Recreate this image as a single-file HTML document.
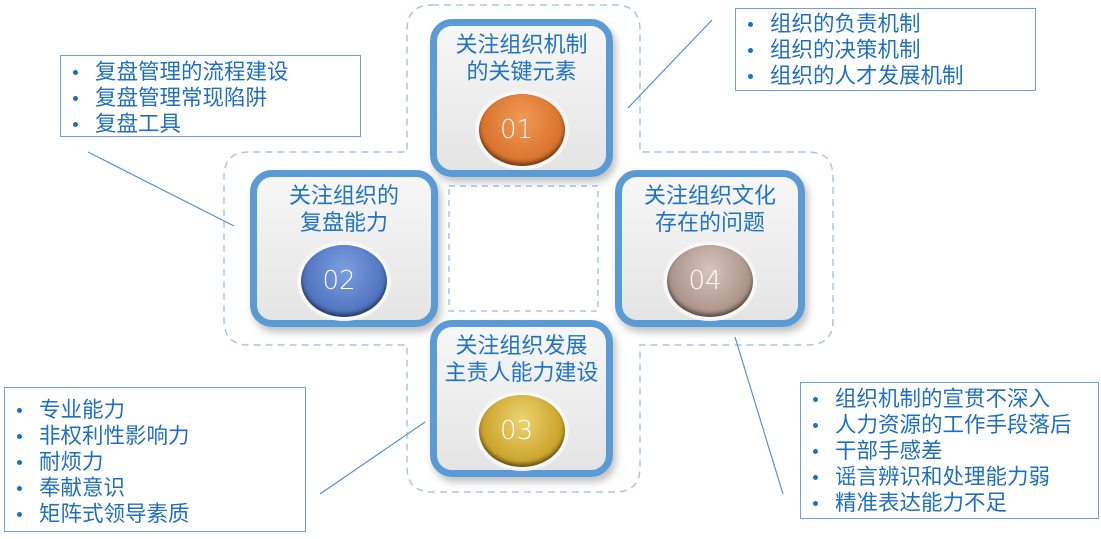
<!DOCTYPE html>
<html><head><meta charset="utf-8"><style>
body{margin:0;width:1101px;height:539px;background:#fff;position:relative;overflow:hidden;font-family:"Liberation Sans","Noto Sans CJK SC",sans-serif;}
.tb{position:absolute;border:1.5px solid #6f9fd6;background:#fff;color:#1f6fc0;font-size:21.5px;line-height:26px;box-sizing:border-box;}
.tb div{position:relative;padding-left:34px;white-space:nowrap}
.tb div:before{content:"";position:absolute;left:12px;top:11px;width:5px;height:5px;border-radius:50%;background:#1f6fc0}
.node{position:absolute;box-sizing:border-box;border:7px solid #5b9bd5;border-radius:22px;background:linear-gradient(#f7f7f7,#e4e4e4);box-shadow:3px 5px 8px rgba(0,0,0,0.25);text-align:center;color:#1f73c4;font-size:22px;line-height:27px;}
.node .t{margin-top:5px}
.ring{position:absolute;left:50%;top:64px;width:94px;height:80px;margin-left:-47px;border-radius:50%;background:radial-gradient(#ffffff 60%,#d5d5d5);}
.ball{position:absolute;left:4px;top:4px;width:86px;height:72px;border-radius:50%;box-shadow:inset 0 -3px 4px rgba(0,0,0,0.5);color:#fff;font-size:26px;line-height:72px;text-indent:-10px;font-family:"DejaVu Sans",sans-serif;font-weight:300}
</style></head><body>
<svg width="1101" height="539" style="position:absolute;left:0;top:0">
<path d="M432,5 H615 Q640,5 640,30 V152 H808 Q833,152 833,177 V320 Q833,345 808,345 H640 V467 Q640,492 615,492 H432 Q407,492 407,467 V345 H249 Q224,345 224,320 V177 Q224,152 249,152 H407 V30 Q407,5 432,5 Z" fill="none" stroke="#a9c6e6" stroke-width="1.5" stroke-dasharray="7,5"/>
<rect x="449" y="186" width="149" height="125" fill="none" stroke="#a9c6e6" stroke-width="1.5" stroke-dasharray="6,5"/>
<g stroke="#5b8fd0" stroke-width="1.2">
<line x1="88" y1="152" x2="234" y2="226"/>
<line x1="628" y1="108" x2="712" y2="20"/>
<line x1="320" y1="494" x2="425" y2="422"/>
<line x1="735" y1="337" x2="783" y2="494"/>
</g>
</svg>

<div class="node" style="left:430px;top:19px;width:183px;height:158px"><div class="t">关注组织机制<br>的关键元素</div><div class="ring"><div class="ball" style="background:radial-gradient(ellipse at 50% 35%,#f09a55,#d9702a 70%,#9a4a15)">01</div></div></div>
<div class="node" style="left:250px;top:170px;width:188px;height:157px"><div class="t">关注组织的<br>复盘能力</div><div class="ring"><div class="ball" style="background:radial-gradient(ellipse at 50% 35%,#7d9ee0,#4d72bd 70%,#2a4585)">02</div></div></div>
<div class="node" style="left:615px;top:170px;width:190px;height:157px"><div class="t">关注组织文化<br>存在的问题</div><div class="ring"><div class="ball" style="background:radial-gradient(ellipse at 50% 35%,#d8c4bb,#a99187 70%,#6a5750)">04</div></div></div>
<div class="node" style="left:430px;top:320px;width:183px;height:157px"><div class="t">关注组织发展<br>主责人能力建设</div><div class="ring"><div class="ball" style="background:radial-gradient(ellipse at 50% 35%,#ecd470,#c8a128 70%,#8a6a10)">03</div></div></div>

<div class="tb" style="left:60px;top:55px;width:301px;height:82px;padding-top:3px"><div>复盘管理的流程建设</div><div>复盘管理常现陷阱</div><div>复盘工具</div></div>
<div class="tb" style="left:735px;top:8px;width:301px;height:83px;padding-top:2px"><div>组织的负责机制</div><div>组织的决策机制</div><div>组织的人才发展机制</div></div>
<div class="tb" style="left:4px;top:387px;width:302px;height:145px;padding-top:9px"><div>专业能力</div><div>非权利性影响力</div><div>耐烦力</div><div>奉献意识</div><div>矩阵式领导素质</div></div>
<div class="tb" style="left:800px;top:382px;width:299px;height:137px;padding-top:3px"><div>组织机制的宣贯不深入</div><div>人力资源的工作手段落后</div><div>干部手感差</div><div>谣言辨识和处理能力弱</div><div>精准表达能力不足</div></div>
</body></html>
